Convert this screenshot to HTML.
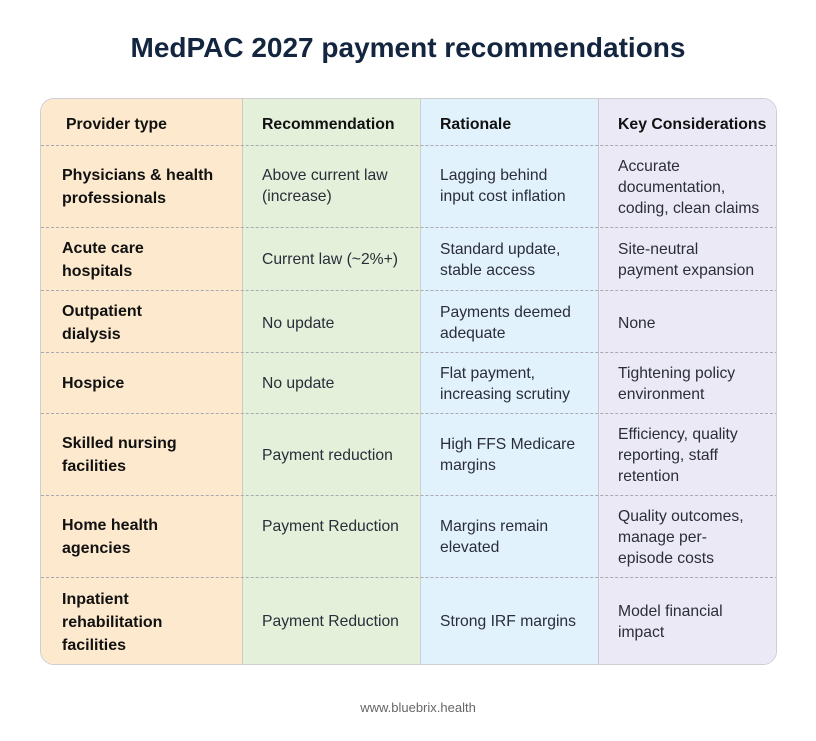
<!DOCTYPE html>
<html><head><meta charset="utf-8"><style>
html,body{margin:0;padding:0;background:#fff;}
body{width:816px;height:741px;position:relative;overflow:hidden;font-family:"Liberation Sans",sans-serif;}
.title{position:absolute;left:0;width:816px;top:30px;text-align:center;font-size:28px;font-weight:bold;color:#13253f;line-height:36px;}
.tbl{position:absolute;left:40px;top:98px;width:735px;height:565px;border:1px solid #cdcdd2;border-radius:14px;overflow:hidden;}
.col{position:absolute;top:0;bottom:0;}
.c1{left:0;width:201px;background:#fde9cd;}
.c2{left:201px;width:178px;background:#e4f0d9;border-left:1px solid #c9ccc4;}
.c3{left:379px;width:178px;background:#e1f2fc;border-left:1px solid #c6d0d6;}
.c4{left:557px;width:180px;background:#ece9f6;border-left:1px solid #c9c9d4;}
.hl{position:absolute;left:0;width:737px;height:0;border-top:1px dashed #a8aab0;}
.t{position:absolute;white-space:nowrap;font-size:15.7px;color:#2a2d3a;line-height:21px;}
.b{font-weight:bold;color:#111;line-height:23px;font-size:16px;}
.h{font-weight:bold;color:#111;font-size:15.8px;}
.foot{position:absolute;left:0;width:836px;top:700px;text-align:center;font-size:13px;color:#666;}
</style></head><body>
<div class="title">MedPAC 2027 payment recommendations</div>
<div class="tbl">
<div class="col c1"></div><div class="col c2"></div><div class="col c3"></div><div class="col c4"></div>
<div class="hl" style="top:46px"></div>
<div class="hl" style="top:128px"></div>
<div class="hl" style="top:191px"></div>
<div class="hl" style="top:253px"></div>
<div class="hl" style="top:314px"></div>
<div class="hl" style="top:396px"></div>
<div class="hl" style="top:478px"></div>
</div>

<!-- header -->
<div class="t h" style="left:66px;top:114px">Provider type</div>
<div class="t h" style="left:262px;top:114px">Recommendation</div>
<div class="t h" style="left:440px;top:114px">Rationale</div>
<div class="t h" style="left:618px;top:114px">Key Considerations</div>

<!-- row 1 -->
<div class="t b" style="left:62px;top:164px">Physicians &amp; health<br>professionals</div>
<div class="t" style="left:262px;top:165px">Above current law<br>(increase)</div>
<div class="t" style="left:440px;top:165px">Lagging behind<br>input cost inflation</div>
<div class="t" style="left:618px;top:156px">Accurate<br>documentation,<br>coding, clean claims</div>

<!-- row 2 -->
<div class="t b" style="left:62px;top:237px">Acute care<br>hospitals</div>
<div class="t" style="left:262px;top:249px">Current law (~2%+)</div>
<div class="t" style="left:440px;top:239px">Standard update,<br>stable access</div>
<div class="t" style="left:618px;top:239px">Site-neutral<br>payment expansion</div>

<!-- row 3 -->
<div class="t b" style="left:62px;top:300px">Outpatient<br>dialysis</div>
<div class="t" style="left:262px;top:313px">No update</div>
<div class="t" style="left:440px;top:302px">Payments deemed<br>adequate</div>
<div class="t" style="left:618px;top:313px">None</div>

<!-- row 4 -->
<div class="t b" style="left:62px;top:372px">Hospice</div>
<div class="t" style="left:262px;top:373px">No update</div>
<div class="t" style="left:440px;top:363px">Flat payment,<br>increasing scrutiny</div>
<div class="t" style="left:618px;top:363px">Tightening policy<br>environment</div>

<!-- row 5 -->
<div class="t b" style="left:62px;top:432px">Skilled nursing<br>facilities</div>
<div class="t" style="left:262px;top:445px">Payment reduction</div>
<div class="t" style="left:440px;top:434px">High FFS Medicare<br>margins</div>
<div class="t" style="left:618px;top:424px">Efficiency, quality<br>reporting, staff<br>retention</div>

<!-- row 6 -->
<div class="t b" style="left:62px;top:514px">Home health<br>agencies</div>
<div class="t" style="left:262px;top:516px">Payment Reduction</div>
<div class="t" style="left:440px;top:516px">Margins remain<br>elevated</div>
<div class="t" style="left:618px;top:506px">Quality outcomes,<br>manage per-<br>episode costs</div>

<!-- row 7 -->
<div class="t b" style="left:62px;top:588px">Inpatient<br>rehabilitation<br>facilities</div>
<div class="t" style="left:262px;top:611px">Payment Reduction</div>
<div class="t" style="left:440px;top:611px">Strong IRF margins</div>
<div class="t" style="left:618px;top:601px">Model financial<br>impact</div>

<div class="foot">www.bluebrix.health</div>
</body></html>
